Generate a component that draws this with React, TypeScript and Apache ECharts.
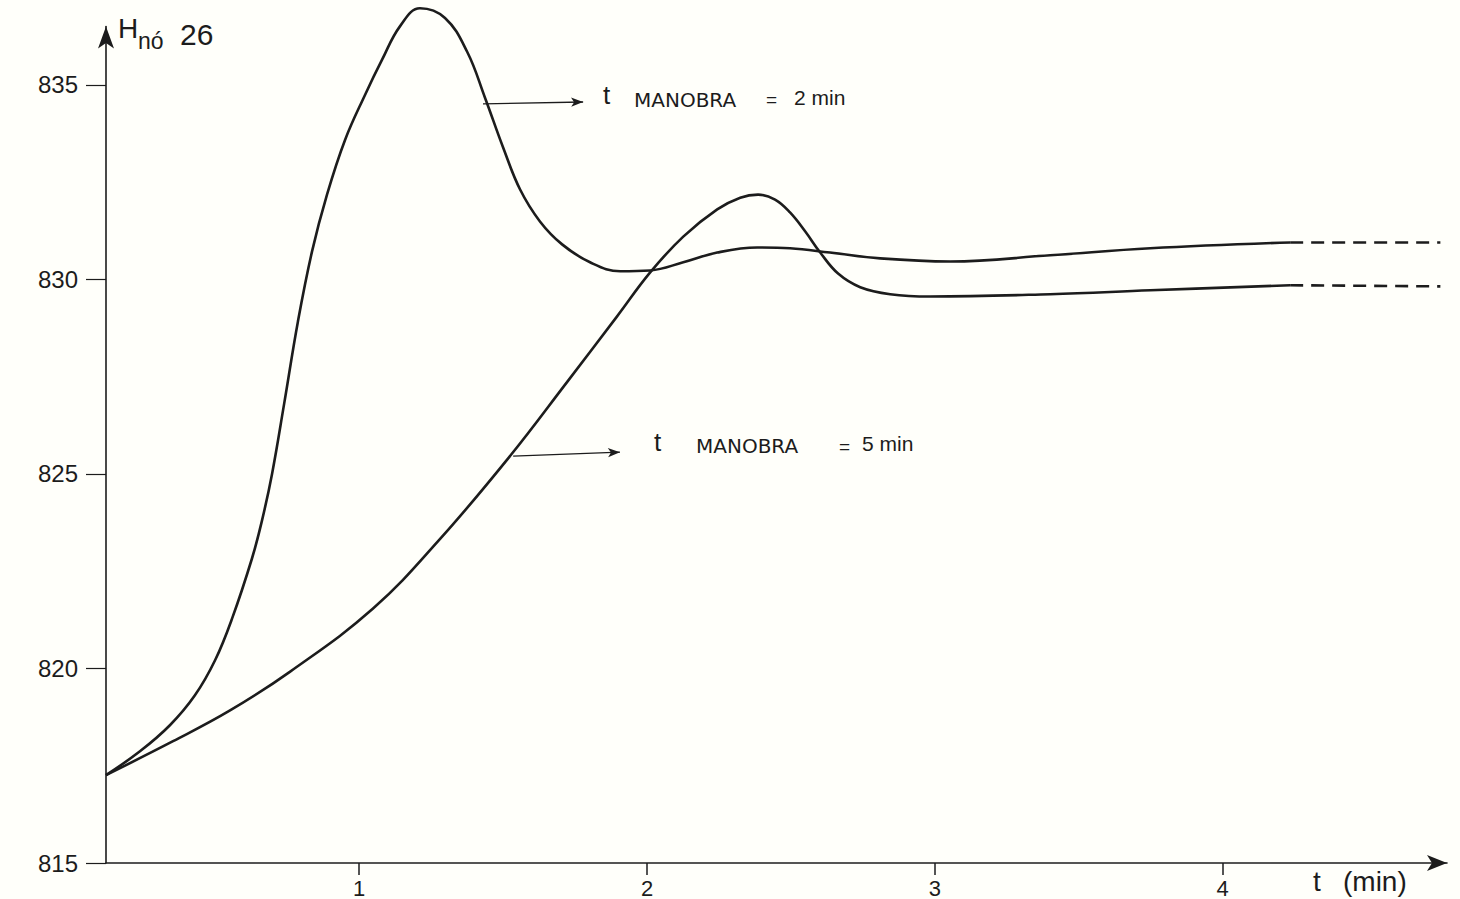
import React, { useEffect, useRef } from "react";
import * as echarts from "echarts";

// Curve "t MANOBRA = 2 min" (time in min, head H in m)
const T_2MIN = [0.12, 0.238, 0.342, 0.429, 0.499, 0.558, 0.627, 0.662, 0.697, 0.739, 0.787, 0.836, 0.888, 0.951, 1.02, 1.079, 1.142, 1.211, 1.298, 1.375, 1.437, 1.5, 1.559, 1.628, 1.705, 1.802, 1.907, 2.011, 2.126, 2.244, 2.383, 2.497, 2.636, 2.81, 3.054, 3.401, 3.749, 4.235];
const H_2MIN = [817.26, 817.87, 818.54, 819.31, 820.21, 821.28, 822.82, 823.8, 825.0, 826.8, 828.92, 830.72, 832.18, 833.59, 834.74, 835.64, 836.51, 836.97, 836.72, 835.85, 834.67, 833.39, 832.31, 831.49, 830.9, 830.44, 830.21, 830.23, 830.44, 830.69, 830.82, 830.8, 830.69, 830.54, 830.46, 830.62, 830.8, 830.95];
const T_2MIN_DASH = [4.235, 4.757];
const H_2MIN_DASH = [830.95, 830.95];

// Curve "t MANOBRA = 5 min"
const T_5MIN = [0.12, 0.353, 0.551, 0.76, 1.048, 1.281, 1.524, 1.722, 1.896, 2.011, 2.126, 2.244, 2.324, 2.386, 2.445, 2.497, 2.55, 2.602, 2.664, 2.741, 2.845, 2.984, 3.401, 3.749, 4.235];
const H_5MIN = [817.26, 818.13, 818.92, 819.92, 821.54, 823.33, 825.46, 827.36, 829.05, 830.18, 831.1, 831.8, 832.1, 832.18, 832.05, 831.72, 831.23, 830.69, 830.15, 829.8, 829.62, 829.56, 829.62, 829.72, 829.85];
const T_5MIN_DASH = [4.235, 4.757];
const H_5MIN_DASH = [829.85, 829.82];

// Axis ticks
const X_TICKS = [1, 2, 3, 4];
const Y_TICKS = [815, 820, 825, 830, 835];

// Annotation arrows (data coordinates: start on curve -> end near label)
const ARROW_2MIN = [[1.43, 834.51], [1.778, 834.56]];
const ARROW_5MIN = [[1.535, 825.46], [1.906, 825.56]];

const INK = "#1c1c1c";

const zip = (xs: number[], ys: number[]) => xs.map((x, i) => [x, ys[i]]);

const arrowMark = (a: number[][]) => ({
  silent: true,
  symbol: ["none", "arrow"],
  symbolSize: [7, 12],
  lineStyle: { color: INK, width: 1.3, type: "solid" },
  label: { show: false },
  data: [[{ coord: a[0] }, { coord: a[1] }]],
});

export default function App() {
  const ref = useRef<HTMLDivElement>(null);

  useEffect(() => {
    document.body.style.margin = "0";
    if (!ref.current) return;
    const chart = echarts.init(ref.current, undefined, { renderer: "svg" });
    const sans = "'Liberation Sans', Arial, sans-serif";
    const wide = "'DejaVu Sans', sans-serif";
    const txt = (text: string, x: number, y: number, size: number, font = sans, weight = "normal") => ({
      type: "text",
      x,
      y,
      silent: true,
      style: { text, fontSize: size, fontFamily: font, fontWeight: weight, fill: INK, textAlign: "left", textVerticalAlign: "middle" },
    });
    const lineBase = {
      type: "line",
      showSymbol: false,
      symbol: "none",
      smooth: 0.4,
      clip: false,
      silent: true,
    };
    chart.setOption({
      animation: false,
      backgroundColor: "#fffffa",
      grid: { left: 106, right: 13, top: 26.5, bottom: 34, containLabel: false },
      xAxis: {
        type: "value",
        min: 0.12,
        max: 4.78,
        axisLine: { show: true, lineStyle: { color: INK, width: 1.6 }, symbol: ["none", "arrow"], symbolSize: [12, 20] },
        axisTick: { show: true, customValues: X_TICKS, length: 12, lineStyle: { color: INK, width: 1.5 } },
        axisLabel: { customValues: X_TICKS, color: INK, fontSize: 22, fontFamily: sans, margin: 14 },
        splitLine: { show: false },
      },
      yAxis: {
        type: "value",
        min: 815,
        max: 836.5,
        axisLine: { show: true, lineStyle: { color: INK, width: 1.6 }, symbol: ["none", "arrow"], symbolSize: [12, 22] },
        axisTick: { show: true, customValues: Y_TICKS, length: 20, lineStyle: { color: INK, width: 1.2 } },
        axisLabel: { customValues: Y_TICKS, color: INK, fontSize: 24, fontFamily: sans, margin: 28 },
        splitLine: { show: false },
      },
      series: [
        {
          ...lineBase,
          name: "t MANOBRA = 2 min",
          data: zip(T_2MIN, H_2MIN),
          lineStyle: { color: INK, width: 2.6 },
          markLine: arrowMark(ARROW_2MIN),
        },
        {
          ...lineBase,
          name: "t MANOBRA = 2 min (cont.)",
          smooth: false,
          data: zip(T_2MIN_DASH, H_2MIN_DASH),
          lineStyle: { color: INK, width: 2.6, type: [13, 8] },
        },
        {
          ...lineBase,
          name: "t MANOBRA = 5 min",
          data: zip(T_5MIN, H_5MIN),
          lineStyle: { color: INK, width: 2.6 },
          markLine: arrowMark(ARROW_5MIN),
        },
        {
          ...lineBase,
          name: "t MANOBRA = 5 min (cont.)",
          smooth: false,
          data: zip(T_5MIN_DASH, H_5MIN_DASH),
          lineStyle: { color: INK, width: 2.6, type: [13, 8] },
        },
      ],
      graphic: [
        txt("H", 118, 28, 28),
        txt("nó", 138, 41, 23),
        txt("26", 180, 34.5, 30),
        txt("t", 603, 95, 26),
        txt("MANOBRA", 634, 99.5, 20, wide, "500"),
        txt("=", 766, 99.5, 19),
        txt("2 min", 794, 97, 21),
        txt("t", 654, 442, 26),
        txt("MANOBRA", 696, 446, 20, wide, "500"),
        txt("=", 839, 446, 19),
        txt("5 min", 862, 443, 21),
        txt("t", 1313, 881, 28),
        txt("(min)", 1343, 881, 28),
      ],
    });
    return () => chart.dispose();
  }, []);

  return <div ref={ref} style={{ width: 1460, height: 899 }} />;
}
